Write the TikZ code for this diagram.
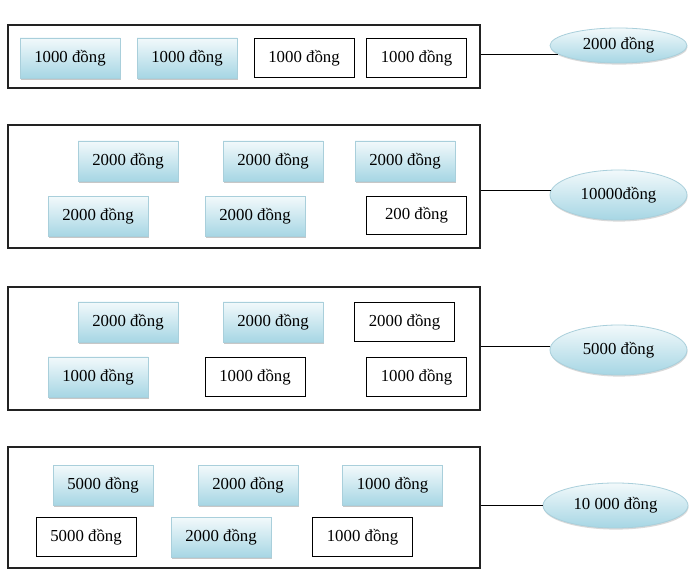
\documentclass[tikz,border=0pt]{standalone}
\usepackage{fontspec}
\setmainfont{Liberation Serif}
\usetikzlibrary{shadows,shapes.geometric}
\definecolor{btop}{HTML}{F2F9FB}
\definecolor{bbot}{HTML}{A6D6E4}
\definecolor{bline}{HTML}{A9CFDB}
\definecolor{oline}{HTML}{222222}
\tikzset{
  every node/.style={font=\fontsize{12.6}{14}\selectfont},
  outerbox/.style={draw=oline, line width=0.8pt, minimum width=354pt, inner sep=0pt},
  bluenote/.style={draw=bline, line width=0.5pt, top color=btop, bottom color=bbot,
     minimum width=75pt, minimum height=30pt, inner sep=0pt, text depth=3pt,
     drop shadow={shadow xshift=0.4pt, shadow yshift=-1.4pt, fill=black, opacity=0.22}},
  whitenote/.style={draw=black, line width=0.7pt, fill=white,
     minimum width=75pt, minimum height=29pt, inner sep=0pt, text depth=3pt},
  sumell/.style={ellipse, draw=bline, line width=0.6pt, top color=btop, bottom color=bbot,
     inner sep=0pt, drop shadow={shadow xshift=0.4pt, shadow yshift=-1.2pt, fill=black, opacity=0.15}},
  link/.style={draw=black, line width=0.7pt}
}
\begin{document}
\begin{tikzpicture}[x=0.75pt,y=-0.75pt]
\useasboundingbox[fill=white] (0,0) rectangle (697,584);

% Row 1
\node[outerbox, minimum height=47.25pt] (o1) at (244,56.5) {};
\node[bluenote]  (a1) at (70,58)    {1000 đồng};
\node[bluenote]  (a2) at (187,58)   {1000 đồng};
\node[whitenote] (a3) at (304,58)   {1000 đồng};
\node[whitenote] (a4) at (416.5,58) {1000 đồng};
\node[sumell, minimum width=102.75pt, minimum height=26.25pt] (e1) at (618.5,45.5) {2000 đồng};
\draw[link] (e1.188) -- (e1.188 -| o1.east);

% Row 2
\node[outerbox, minimum height=92.25pt] (o2) at (244,186.5) {};
\node[bluenote]  (b1) at (128,161)   {2000 đồng};
\node[bluenote]  (b2) at (273,161)   {2000 đồng};
\node[bluenote]  (b3) at (405,161)   {2000 đồng};
\node[bluenote]  (b4) at (98,216.5)  {2000 đồng};
\node[bluenote]  (b5) at (255,216.5) {2000 đồng};
\node[whitenote] (b6) at (416.5,215.5) {200 đồng};
\node[sumell, minimum width=102.75pt, minimum height=37.5pt] (e2) at (618.5,195) {10000đồng};
\draw[link] (e2.176) -- (e2.176 -| o2.east);

% Row 3
\node[outerbox, minimum height=92.25pt] (o3) at (244,348.5) {};
\node[bluenote]  (c1) at (128,322)   {2000 đồng};
\node[bluenote]  (c2) at (273,322)   {2000 đồng};
\node[whitenote] (c3) at (404.5,322) {2000 đồng};
\node[bluenote]  (c4) at (98,377)    {1000 đồng};
\node[whitenote] (c5) at (255,377)   {1000 đồng};
\node[whitenote] (c6) at (416.5,377) {1000 đồng};
\node[sumell, minimum width=102.75pt, minimum height=37.5pt] (e3) at (618.5,350) {5000 đồng};
\draw[link] (e3.177) -- (e3.177 -| o3.east);

% Row 4
\node[outerbox, minimum height=90.75pt] (o4) at (244,507.5) {};
\node[bluenote]  (d1) at (103,485.5)   {5000 đồng};
\node[bluenote]  (d2) at (248,485.5)   {2000 đồng};
\node[bluenote]  (d3) at (392.5,485.5) {1000 đồng};
\node[whitenote] (d4) at (86,537)      {5000 đồng};
\node[bluenote]  (d5) at (221,537.5)   {2000 đồng};
\node[whitenote] (d6) at (362.5,537)   {1000 đồng};
\node[sumell, minimum width=108.75pt, minimum height=33.75pt] (e4) at (615.5,505.5) {10 000 đồng};
\draw[link] (e4.west) -- (e4.west -| o4.east);
\end{tikzpicture}
\end{document}
